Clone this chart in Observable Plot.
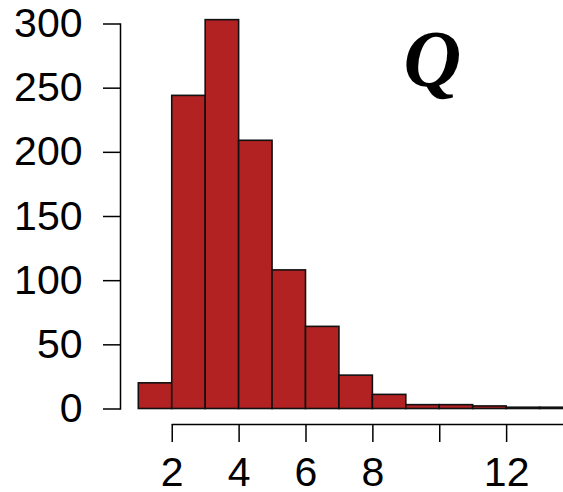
<!DOCTYPE html>
<html>
<head>
<meta charset="utf-8">
<script src="https://cdn.jsdelivr.net/npm/d3@7"></script>
<script src="https://cdn.jsdelivr.net/npm/@observablehq/plot@0.6"></script>
<style>
  html, body { margin: 0; padding: 0; background: #fff; overflow: hidden; }
  #chart svg { overflow: hidden; }
</style>
</head>
<body>
<div id="chart"></div>
<script>
// Histogram bins (unit width) and counts
const binStart = [1, 2, 3, 4, 5, 6, 7, 8, 9, 10, 11, 12, 13];
const binEnd   = [2, 3, 4, 5, 6, 7, 8, 9, 10, 11, 12, 13, 14];
const counts   = [20, 244, 303, 209, 108, 64, 26, 11, 3, 3, 2, 1, 1];

const yTicks = [0, 50, 100, 150, 200, 250, 300];
const xTicks = [2, 4, 6, 8, 10, 12, 14];
const xLabelTicks = [2, 4, 6, 8, 12];
const panelLabel = "Q";

const bins = binStart.map((s, i) => ({x1: s, x2: binEnd[i], count: counts[i]}));

const chart = Plot.plot({
  width: 563,
  height: 492,
  marginLeft: 120,
  marginRight: 0,
  marginTop: 23.5,
  marginBottom: 83.5,
  style: {fontFamily: "'Liberation Sans', Arial, sans-serif", background: "#fff", color: "#000"},
  x: {domain: [1, 14], range: [138.3, 573], label: null},
  y: {domain: [0, 300], label: null},
  marks: [
    Plot.rectY(bins, {x1: "x1", x2: "x2", y: "count", fill: "#B22222", stroke: "#111", strokeWidth: 1.6}),
    Plot.frame({anchor: "left", stroke: "#000", strokeWidth: 1.5}),
    Plot.axisY(yTicks, {anchor: "left", label: null, tickSize: 17, tickPadding: 21, fontSize: 41, stroke: "#000", strokeWidth: 1.5, fill: "#000"}),
    Plot.ruleY([0], {x1: xTicks[0], x2: xTicks[xTicks.length - 1], dy: 15.5, stroke: "#000", strokeWidth: 1.5}),
    Plot.axisX(xTicks, {anchor: "bottom", label: null, tickSize: 18, tickFormat: () => "", dy: 15.5, stroke: "#000", strokeWidth: 1.5}),
    Plot.axisX(xLabelTicks, {anchor: "bottom", label: null, tickSize: 0, tickPadding: 32, dy: 15.5, fontSize: 41, fill: "#000"}),
    Plot.text([panelLabel], {frameAnchor: "top-left", dx: 312, dy: 5, lineAnchor: "top", textAnchor: "middle",
      fontFamily: "'Liberation Serif', 'Times New Roman', serif", fontStyle: "italic", fontWeight: "bold", fontSize: 80, fill: "#000"})
  ]
});
document.getElementById("chart").appendChild(chart);
</script>
</body>
</html>
